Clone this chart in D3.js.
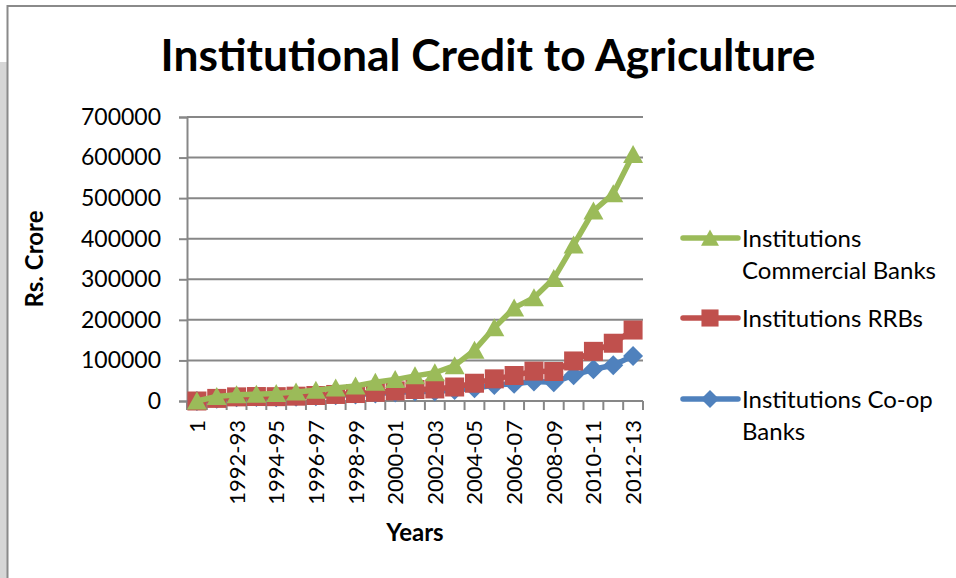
<!DOCTYPE html>
<html><head><meta charset="utf-8">
<script src="https://cdn.jsdelivr.net/npm/d3@7"></script>
<style>body{margin:0;background:#fff}svg{display:block}text{font-family:Lato,"Open Sans",sans-serif;fill:#000}</style>
</head><body><svg id="c" width="956" height="578"></svg>
<script>
const categories = ["1","1991-92","1992-93","1993-94","1994-95","1995-96","1996-97","1997-98","1998-99","1999-00","2000-01","2001-02","2002-03","2003-04","2004-05","2005-06","2006-07","2007-08","2008-09","2009-10","2010-11","2011-12","2012-13"];
const coopBanks = [0,5800,9400,10100,9500,10500,11900,14100,16000,18400,20700,23500,23600,26900,31400,39400,42500,48300,46000,63500,78100,88000,111200];
const rrbs = [0,6400,10200,11000,10700,11900,13600,16100,18400,21500,24900,28400,29700,34500,43800,54600,62900,73600,72700,98700,122400,142400,174900];
const commercialBanks = [0,11200,15200,16500,18700,22000,26400,32000,36900,46300,52800,62000,69600,87000,125300,180500,229400,254700,301700,384500,468300,511000,607400];
const yTicks = [0,100000,200000,300000,400000,500000,600000,700000];
const xTickLabels = ["1","1992-93","1994-95","1996-97","1998-99","2000-01","2002-03","2004-05","2006-07","2008-09","2010-11","2012-13"];
const seriesNames = [["Institutions","Commercial Banks"],["Institutions RRBs"],["Institutions Co-op","Banks"]];
const title = "Institutional Credit to Agriculture";

const svg = d3.select("#c");
const grid = "#878787";
// frame
svg.append("rect").attr("x",0).attr("y",62).attr("width",7).attr("height",516).attr("fill","#d6d6d6");
svg.append("line").attr("x1",7).attr("x2",956).attr("y1",6).attr("y2",6).attr("stroke","#8a8a8a").attr("stroke-width",2);
svg.append("line").attr("x1",7.5).attr("x2",7.5).attr("y1",5).attr("y2",578).attr("stroke","#8a8a8a").attr("stroke-width",2);

const L = 187, R = 643, T = 117, B = 401;
const x = d3.scaleBand().domain(categories).range([L,R]);
const y = d3.scaleLinear().domain([0,700000]).range([B,T]);
const cx = d => x(d) + x.bandwidth()/2;

// title
const tt = svg.append("text").attr("x",488).attr("y",71).attr("text-anchor","middle")
  .attr("font-weight","bold").attr("font-size",46).text(title);
const tw = tt.node().getComputedTextLength();
tt.attr("font-size",46*655/tw);

// gridlines + y axis
const yAxis = d3.axisLeft(y).tickValues(yTicks).tickSize(8).tickPadding(18).tickFormat(d3.format("d"));
const gy = svg.append("g").attr("transform",`translate(${L},0)`).call(yAxis);
gy.select(".domain").attr("stroke",grid).attr("stroke-width",2);
gy.selectAll(".tick line").attr("stroke",grid).attr("stroke-width",2);
gy.selectAll(".tick text").attr("font-size",23).style("font-family","Lato");
svg.append("g").selectAll("line").data(yTicks.filter(v=>v>0)).join("line")
  .attr("x1",L).attr("x2",R).attr("y1",d=>y(d)).attr("y2",d=>y(d)).attr("stroke",grid).attr("stroke-width",2);

// x axis
const gx = svg.append("g").attr("transform",`translate(0,${B})`);
gx.append("line").attr("x1",L).attr("x2",R).attr("stroke",grid).attr("stroke-width",2);
const bounds = categories.map(c=>x(c)).concat([R]);
gx.selectAll("line.t").data(bounds).join("line").attr("class","t")
  .attr("x1",d=>d).attr("x2",d=>d).attr("y1",0).attr("y2",9).attr("stroke",grid).attr("stroke-width",2);
gx.selectAll("text").data(xTickLabels).join("text")
  .attr("transform",d=>`translate(${cx(d)+8},19) rotate(-90)`)
  .attr("text-anchor","end").attr("font-size",22).text(d=>d);

// axis titles
svg.append("text").attr("x",415).attr("y",541).attr("text-anchor","middle").attr("font-weight","bold").attr("font-size",24).text("Years");
svg.append("text").attr("transform","translate(43,259) rotate(-90)").attr("text-anchor","middle").attr("font-weight","bold").attr("font-size",24).text("Rs. Crore");

// markers
const shapes = {
  tri: "M0,-9.5L10,8.5L-10,8.5Z",
  sq: "M-9.5,-9.5H9.5V9.5H-9.5Z",
  dia: "M0,-10L10,0L0,10L-10,0Z"
};
const series = [
  {vals: coopBanks, color:"#4F81BD", shape:"dia", leg:399, name:seriesNames[2]},
  {vals: rrbs, color:"#C0504D", shape:"sq", leg:318, name:seriesNames[1]},
  {vals: commercialBanks, color:"#9BBB59", shape:"tri", leg:238, name:seriesNames[0]}
];
const line = d3.line().x((d,i)=>cx(categories[i])).y(d=>y(d));
series.forEach(s=>{
  const g = svg.append("g");
  g.append("path").attr("d",line(s.vals)).attr("fill","none").attr("stroke",s.color).attr("stroke-width",5.5).attr("stroke-linejoin","round");
  g.selectAll("path.m").data(s.vals).join("path").attr("class","m")
    .attr("transform",(d,i)=>`translate(${cx(categories[i])},${y(d)})`)
    .attr("d",shapes[s.shape]).attr("fill",s.color);
  // legend
  const lg = svg.append("g").attr("transform",`translate(710,${s.leg})`);
  lg.append("line").attr("x1",-27).attr("x2",28).attr("stroke",s.color).attr("stroke-width",5.5).attr("stroke-linecap","round");
  lg.append("path").attr("d",shapes[s.shape]).attr("fill",s.color).attr("transform","scale(0.9)");
  s.name.forEach((t,k)=>{
    lg.append("text").attr("x",32).attr("y",9+k*32).attr("font-size",24).text(t);
  });
});
</script></body></html>
